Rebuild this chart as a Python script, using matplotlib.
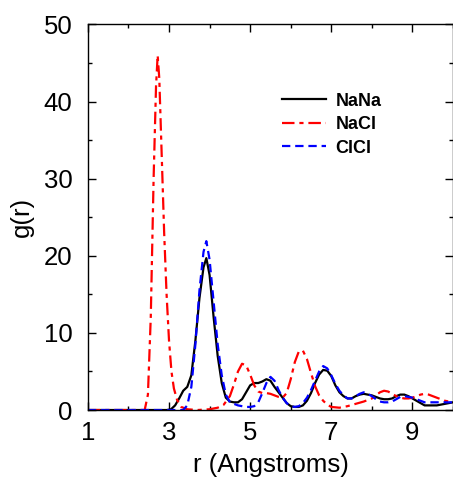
import matplotlib
matplotlib.use("Agg")
import matplotlib.pyplot as plt
from matplotlib.ticker import FixedLocator

plt.rcParams['font.family'] = ['Liberation Sans', 'DejaVu Sans']
plt.rcParams['lines.scale_dashes'] = False

# NaNa (black solid)
r_nana = [1.0, 2.0, 2.95, 3.05, 3.15, 3.25, 3.35, 3.45, 3.55, 3.65, 3.75, 3.85, 3.92, 4.0, 4.1,
          4.2, 4.3, 4.4, 4.5, 4.6, 4.7, 4.8, 4.9, 5.0, 5.1, 5.2, 5.3, 5.4, 5.5, 5.6, 5.7,
          5.8, 5.9, 6.0, 6.1, 6.2, 6.3, 6.4, 6.5, 6.6, 6.7, 6.8, 6.9, 7.0, 7.1, 7.2, 7.3,
          7.4, 7.5, 7.6, 7.7, 7.8, 7.9, 8.0, 8.1, 8.2, 8.3, 8.4, 8.5, 8.6, 8.7, 8.8, 8.9,
          9.0, 9.1, 9.2, 9.3, 9.4, 9.5, 9.6, 9.7, 9.8, 9.9, 10.0]
g_nana = [0.0, 0.0, 0.0, 0.1, 0.6, 1.5, 2.5, 3.0, 4.5, 9.0, 14.5, 18.5, 19.7, 17.5, 12.0,
          7.0, 3.5, 1.6, 1.1, 1.0, 1.0, 1.4, 2.3, 3.2, 3.5, 3.5, 3.7, 4.0, 3.8, 3.0, 2.3,
          1.6, 0.9, 0.5, 0.4, 0.4, 0.6, 1.2, 2.2, 3.5, 4.6, 5.2, 5.1, 4.4, 3.2, 2.3, 1.8,
          1.5, 1.5, 1.8, 2.0, 2.1, 2.0, 1.9, 1.7, 1.5, 1.4, 1.4, 1.5, 1.8, 2.0, 2.0, 1.8,
          1.5, 1.2, 0.9, 0.6, 0.6, 0.6, 0.6, 0.7, 0.8, 0.9, 1.0]

# NaCl (red dash-dot)
r_nacl = [1.0, 2.0, 2.4, 2.48, 2.55, 2.62, 2.68, 2.72, 2.76, 2.82, 2.88, 2.94, 3.0, 3.06,
          3.12, 3.2, 3.3, 3.45, 3.7, 4.0, 4.2, 4.35, 4.5, 4.6, 4.7, 4.8, 4.9, 5.0, 5.1,
          5.2, 5.3, 5.4, 5.5, 5.6, 5.7, 5.8, 5.9, 6.0, 6.1, 6.2, 6.3, 6.4, 6.5, 6.6, 6.7,
          6.8, 6.9, 7.0, 7.2, 7.4, 7.6, 7.8, 8.0, 8.1, 8.2, 8.3, 8.4, 8.5, 8.6, 8.7, 8.8,
          8.9, 9.0, 9.1, 9.2, 9.3, 9.4, 9.5, 9.6, 9.7, 9.8, 9.9, 10.0]
g_nacl = [0.0, 0.0, 0.0, 2.0, 12.0, 30.0, 42.0, 46.0, 43.0, 33.0, 23.0, 15.0, 9.0, 5.0,
          2.8, 1.3, 0.4, 0.1, 0.0, 0.1, 0.3, 0.7, 1.8, 3.3, 5.0, 6.0, 5.8, 4.6, 3.2,
          2.4, 2.2, 2.2, 2.1, 1.9, 1.7, 1.6, 2.2, 4.0, 6.2, 7.6, 7.7, 6.6, 4.8, 3.1, 1.9,
          1.2, 0.7, 0.4, 0.3, 0.5, 0.8, 1.1, 1.5, 1.9, 2.3, 2.5, 2.4, 2.1, 1.8, 1.6, 1.5,
          1.5, 1.6, 1.8, 2.0, 2.1, 2.0, 1.8, 1.6, 1.4, 1.2, 1.1, 1.0]

# ClCl (blue dashed)
r_clcl = [1.0, 2.0, 3.0, 3.35, 3.45, 3.55, 3.65, 3.75, 3.85, 3.92, 4.0, 4.1, 4.2, 4.3,
          4.4, 4.5, 4.6, 4.7, 4.8, 4.9, 5.0, 5.1, 5.2, 5.3, 5.4, 5.5, 5.6, 5.7, 5.8,
          5.9, 6.0, 6.1, 6.2, 6.3, 6.4, 6.5, 6.6, 6.7, 6.8, 6.9, 7.0, 7.1, 7.2, 7.3,
          7.4, 7.5, 7.6, 7.7, 7.8, 7.9, 8.0, 8.1, 8.2, 8.3, 8.4, 8.5, 8.6, 8.7, 8.8,
          8.9, 9.0, 9.1, 9.2, 9.3, 9.4, 9.5, 9.6, 9.7, 9.8, 9.9, 10.0]
g_clcl = [0.0, 0.0, 0.0, 0.0, 0.6, 3.0, 8.5, 15.5, 20.5, 21.9, 19.5, 14.0, 8.5, 4.5,
          2.0, 1.0, 0.8, 0.6, 0.5, 0.4, 0.4, 0.5, 1.0, 2.2, 3.5, 4.3, 3.8, 2.6, 1.6,
          0.9, 0.5, 0.4, 0.5, 0.9, 1.6, 2.6, 3.8, 5.0, 5.7, 5.4, 4.5, 3.4, 2.5, 1.9,
          1.5, 1.5, 1.8, 2.1, 2.3, 2.1, 1.8, 1.4, 1.1, 1.0, 1.0, 1.1, 1.4, 1.7, 1.8,
          1.7, 1.6, 1.4, 1.2, 1.0, 1.0, 1.0, 1.0, 1.0, 1.0, 1.0, 1.0]

x_major = [1, 3, 5, 7, 9]
x_minor = [2, 4, 6, 8, 10]
y_major = [0, 10, 20, 30, 40, 50]
y_minor = [5, 15, 25, 35, 45]

fig = plt.figure(figsize=(4.53, 4.79), dpi=100)
ax = fig.add_axes([0.194, 0.144, 0.806, 0.805])

ax.plot(r_nana, g_nana, color='black', lw=1.6, label='NaNa')
ax.plot(r_nacl, g_nacl, color='red', lw=1.6, dashes=(9, 3.5, 3, 3.5), label='NaCl')
ax.plot(r_clcl, g_clcl, color='blue', lw=1.6, dashes=(6, 3.5), label='ClCl')

ax.set_xlim(1, 10)
ax.set_ylim(0, 50)
ax.xaxis.set_major_locator(FixedLocator(x_major))
ax.xaxis.set_minor_locator(FixedLocator(x_minor))
ax.yaxis.set_major_locator(FixedLocator(y_major))
ax.yaxis.set_minor_locator(FixedLocator(y_minor))
ax.tick_params(which='both', direction='in', top=True, right=True, labelsize=18.5, width=1)
ax.tick_params(which='major', length=6)
ax.tick_params(axis='y', which='major', pad=11)
ax.tick_params(axis='x', which='major', pad=8)
ax.tick_params(which='minor', length=3)
for s in ax.spines.values():
    s.set_linewidth(1.0)

ax.set_xlabel('r (Angstroms)', fontsize=18.5, labelpad=6)
ax.set_ylabel('g(r)', fontsize=18.5, labelpad=7)

leg = ax.legend(loc='upper left', bbox_to_anchor=(0.488, 0.865), frameon=False,
                prop={'weight': 'bold', 'size': 13}, handlelength=2.4,
                handletextpad=0.55, labelspacing=0.36)

fig.savefig('out.png', dpi=100)
